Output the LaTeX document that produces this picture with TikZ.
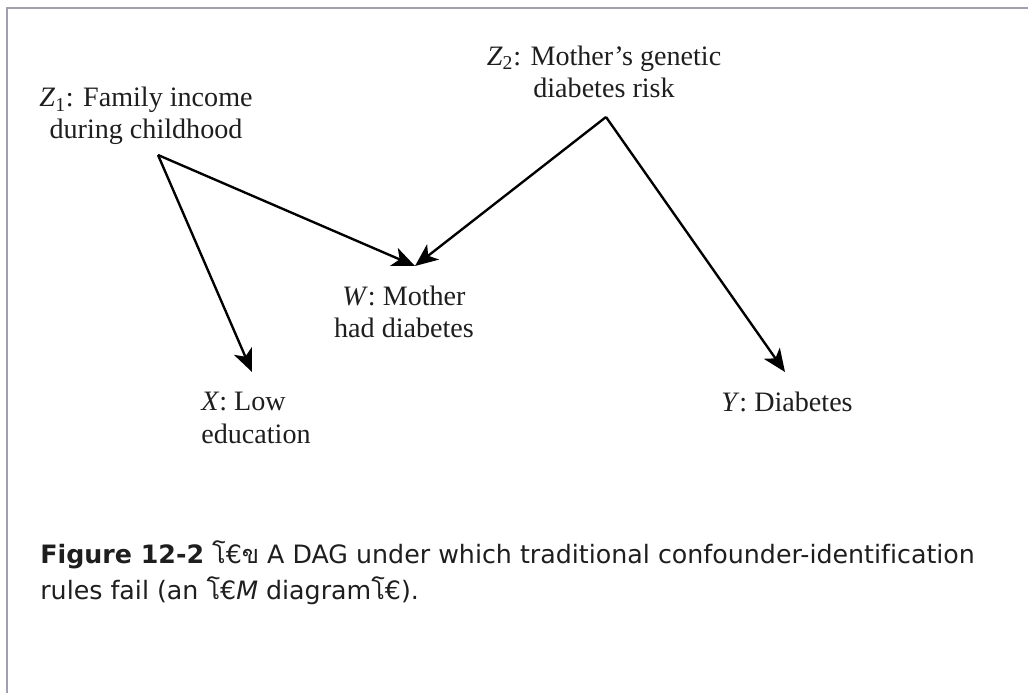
\documentclass[tikz,border=0pt]{standalone}
\usepackage{fontspec}
\setmainfont{Liberation Serif}
\newfontfamily\capfont[Ligatures=NoCommon]{DejaVu Sans}
\newfontfamily\thaifont[Script=Thai]{Loma}
\usetikzlibrary{arrows.meta}
\definecolor{framegray}{RGB}{160,160,174}
\definecolor{ink}{RGB}{30,30,30}

\begin{document}
\begin{tikzpicture}[x=0.02cm,y=-0.02cm,
  var/.style={font=\fontsize{16}{18.5}\selectfont,text=ink,align=center,inner sep=0pt},
  arr/.style={-{Stealth[length=13pt,width=11pt,inset=3.5pt]},line width=1.35pt}]
\useasboundingbox (0,0) rectangle (1028,693);
\draw[framegray,line width=1.2pt] (7,693) -- (7,8) -- (1028,8);

% variables
\node[var] (z1) at (146,116) {\textit{Z}\textsubscript{1}: Family income\\during childhood};
\node[var] (z2) at (604,72) {\textit{Z}\textsubscript{2}: Mother's genetic\\diabetes risk};
\node[var] (w) at (404,312) {\textit{W}: Mother\\had diabetes};
\node[var,align=left,anchor=west] (x) at (201,418) {\textit{X}: Low\\education};
\node[var,anchor=west] (y) at (721,402) {\textit{Y}: Diabetes};

\coordinate (z1o) at (158,155);
\coordinate (z2o) at (606,117);
\coordinate (xin) at (252,372);
\coordinate (win) at (415,266);
\coordinate (yin) at (785,372);

\draw[arr] (z1o) -- (xin);
\draw[arr] (z1o) -- (win);
\draw[arr] (z2o) -- (win);
\draw[arr] (z2o) -- (yin);

% caption
\node[anchor=north west,align=left,inner sep=0pt,text=ink,
  font=\capfont\fontsize{14.4}{20.5}\selectfont] (cap) at (40,540)
  {\textbf{Figure 12-2} {\thaifont โ}€{\thaifont ข} A DAG under which traditional confounder-identification\\
   rules fail (an {\thaifont โ}€\textit{M} diagram{\thaifont โ}€).};
\end{tikzpicture}
\end{document}
